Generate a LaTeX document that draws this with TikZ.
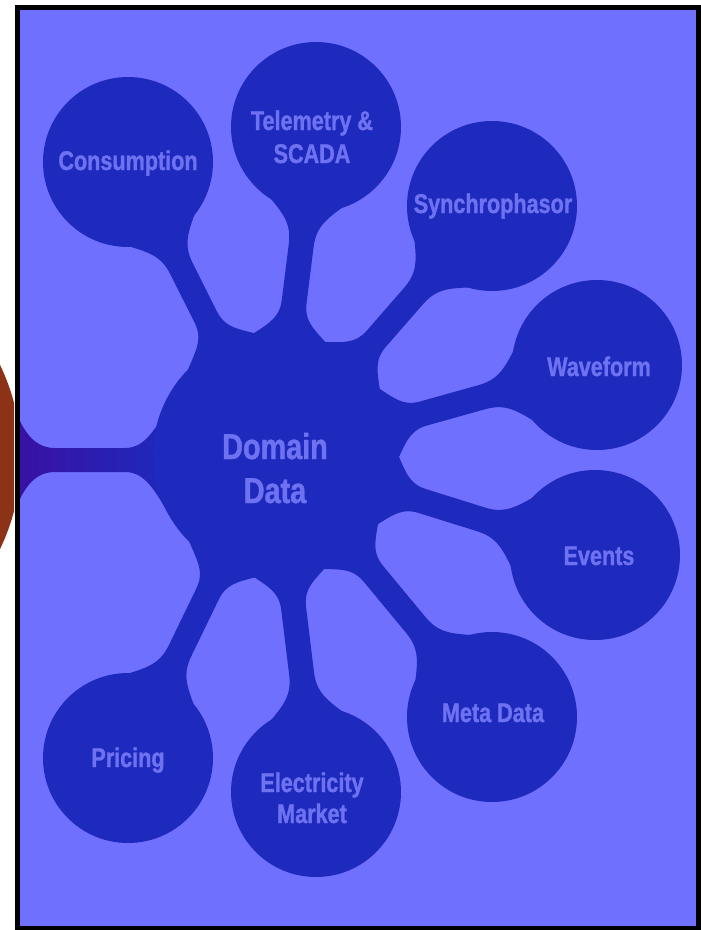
\documentclass[tikz,border=0pt]{standalone}
\usepackage{fontspec}
\newfontfamily\lbl[FakeStretch=0.8]{Liberation Sans}
\newfontfamily\lblheavy[FakeStretch=0.8, FakeBold=1.2]{Liberation Sans}
\definecolor{bgblue}{RGB}{112,112,255}
\definecolor{dkblue}{RGB}{30,41,190}
\definecolor{txtblue}{RGB}{110,114,240}
\definecolor{lpurple}{RGB}{58,16,160}
\definecolor{brownhub}{RGB}{140,50,22}
\newcommand\hubR{122}
\newcommand\satR{85}
\newcommand\sw{12.5}
% organic stem from hub #1 to satellite #2
\newcommand\mystem[2]{%
  \pgfpointdiff{\pgfpointanchor{#1}{center}}{\pgfpointanchor{#2}{center}}%
  \pgfgetlastxy\sdx\sdy
  \pgfmathsetmacro\sang{atan2(\sdy,\sdx)}%
  \pgfmathsetmacro\sdist{veclen(\sdx,\sdy)}%
  \pgfmathsetmacro\sA{\hubR-15}%
  \pgfmathsetmacro\sB{\hubR+4}%
  \pgfmathsetmacro\sC{\hubR+10}%
  \pgfmathsetmacro\sD{\hubR+32}%
  \pgfmathsetmacro\sE{\sdist-\satR-34}%
  \pgfmathsetmacro\sF{\sdist-\satR-10}%
  \pgfmathsetmacro\sG{\sdist-\satR-2}%
  \pgfmathsetmacro\sH{\sdist-\satR+18}%
  \begin{scope}[shift={(#1)}, rotate=\sang]
    \fill[dkblue] (\sA pt,48pt) .. controls (\sB pt,30pt) and (\sC pt,\sw pt) .. (\sD pt,\sw pt)
      -- (\sE pt,\sw pt) .. controls (\sF pt,\sw pt) and (\sG pt,26pt) .. (\sH pt,46pt)
      -- (\sH pt,-46pt) .. controls (\sG pt,-26pt) and (\sF pt,-\sw pt) .. (\sE pt,-\sw pt)
      -- (\sD pt,-\sw pt) .. controls (\sC pt,-\sw pt) and (\sB pt,-30pt) .. (\sA pt,-48pt) -- cycle;
  \end{scope}}
\tikzset{
  satlabel/.style={font=\lblheavy\bfseries\fontsize{27}{32}\selectfont, text=txtblue, anchor=base, inner sep=0pt},
  hublabel/.style={font=\lblheavy\bfseries\fontsize{36}{44}\selectfont, text=txtblue, anchor=base, inner sep=0pt},
  disc/.style={fill=dkblue}
}
\begin{document}
\begin{tikzpicture}[x=1pt,y=-1pt]
\useasboundingbox (0,0) rectangle (701,930);
\fill[white] (0,0) rectangle (701,930);
\begin{scope}
  \clip (0,0) rectangle (14,930);
  \fill[brownhub] (-191,457) circle[radius=212];
\end{scope}
\fill[bgblue] (17.5,7.5) rectangle (698,928);
\begin{scope}
  \clip (20,10) rectangle (695.5,925.5);
  \coordinate (hub) at (275,455);
  \coordinate (cCons) at (128,162);
  \coordinate (cTel) at (316,127);
  \coordinate (cSyn) at (492,206);
  \coordinate (cWav) at (597,365);
  \coordinate (cEvt) at (595,555);
  \coordinate (cMeta) at (492,717);
  \coordinate (cElec) at (316,792);
  \coordinate (cPric) at (128,758);
  \coordinate (ext) at (0,460);
  % connector to the outer (brown) hub
  \begin{scope}[shift={(ext)}]
    \shade[left color=lpurple, right color=dkblue]
      (8,-68) .. controls (20,-35) and (30,-12) .. (55,-12) -- (125,-12)
      .. controls (145,-12) and (155,-30) .. (172,-60) -- (172,60)
      .. controls (155,30) and (145,12) .. (125,12) -- (55,12)
      .. controls (30,12) and (20,35) .. (8,68) -- cycle;
  \end{scope}
  % stems
  \foreach \s in {cCons,cTel,cSyn,cWav,cEvt,cMeta,cElec,cPric} {\mystem{hub}{\s}}
  % discs
  \fill[disc] (hub) circle[radius=\hubR];
  \foreach \s in {cCons,cTel,cSyn,cWav,cEvt,cMeta,cElec,cPric} {\fill[disc] (\s) circle[radius=\satR];}
  % labels
  \node[hublabel] (dom1) at (275,459) {Domain};
  \node[hublabel] (dom2) at (275,503) {Data};
  \node[satlabel] (cons) at (128,170) {Consumption};
  \node[satlabel] (tel1) at (312,130) {Telemetry \&};
  \node[satlabel] (tel2) at (312,163) {SCADA};
  \node[satlabel] (syn) at (493,213) {Synchrophasor};
  \node[satlabel] (wav) at (599,376) {Waveform};
  \node[satlabel] (evt) at (599,565) {Events};
  \node[satlabel] (meta) at (493,722) {Meta Data};
  \node[satlabel] (pric) at (128,767) {Pricing};
  \node[satlabel] (elec1) at (312,792) {Electricity};
  \node[satlabel] (elec2) at (312,823) {Market};
\end{scope}
\draw[black, line width=5pt] (17.5,7.5) rectangle (698,928);
\end{tikzpicture}
\end{document}
